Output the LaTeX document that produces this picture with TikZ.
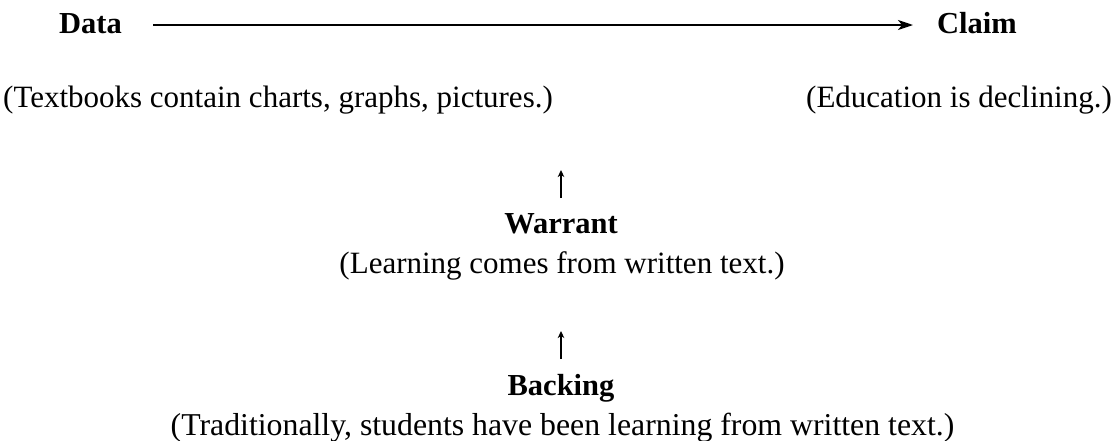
\documentclass[tikz,border=0pt]{standalone}
\usepackage{fontspec}
\setmainfont{Liberation Serif}
\usetikzlibrary{arrows.meta}
\tikzset{
  label/.style={font=\fontsize{30.5}{34}\selectfont\bfseries, inner sep=0pt, anchor=base},
  note/.style={font=\fontsize{31}{35}\selectfont, inner sep=0pt, anchor=base},
  mainarrow/.style={line width=1.9pt, -{Stealth[length=15pt, width=10pt, inset=4pt]}},
  uparrow/.style={line width=1.5pt, -{Stealth[length=7pt, width=6.5pt, inset=2pt]}}
}
\begin{document}
\begin{tikzpicture}[x=1pt, y=-1pt]
  \useasboundingbox (0,0) rectangle (1119,440);
  % top row: data leads to claim
  \node[label] (data) at (90.5,33) {Data};
  \node[label] (claim) at (977,33) {Claim};
  \node[note, anchor=base west] (datatext) at (3,107) {(Textbooks contain charts, graphs, pictures.)};
  \node[note, anchor=base east] (claimtext) at (1112,107) {(Education is declining.)};
  \coordinate (a1) at (153,25);
  \coordinate (a2) at (913,25);
  \draw[mainarrow] (a1) -- (a2);
  % warrant
  \coordinate (w1) at (561,198);
  \coordinate (w2) at (561,170);
  \draw[uparrow] (w1) -- (w2);
  \node[label] (warrant) at (561,233) {Warrant};
  \node[note] (warranttext) at (562,273) {(Learning comes from written text.)};
  % backing
  \coordinate (b1) at (561,359);
  \coordinate (b2) at (561,331);
  \draw[uparrow] (b1) -- (b2);
  \node[label] (backing) at (561,395) {Backing};
  \node[note, font=\fontsize{31.8}{35}\selectfont] (backingtext) at (562.5,435) {(Traditionally, students have been learning from written text.)};
\end{tikzpicture}
\end{document}
